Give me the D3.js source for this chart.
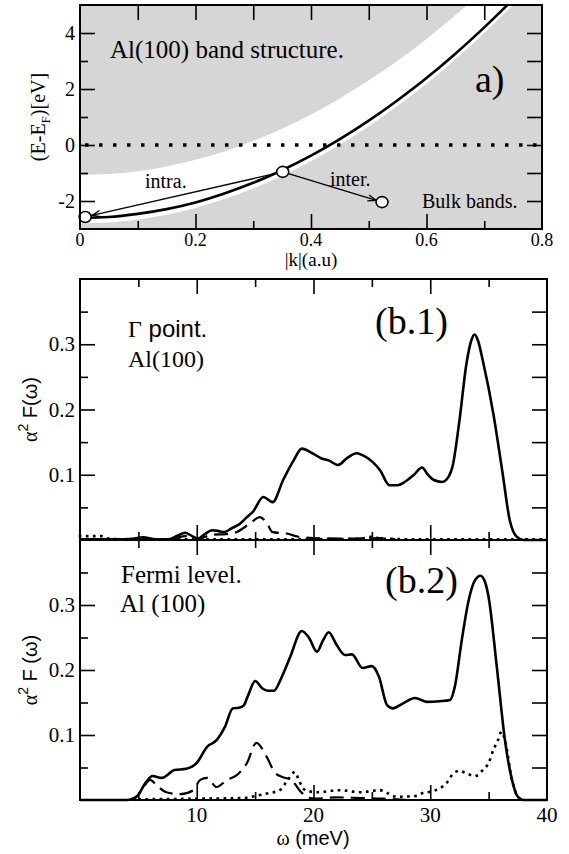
<!DOCTYPE html>
<html><head><meta charset="utf-8">
<script src="https://cdn.jsdelivr.net/npm/d3@7"></script>
<style>body{margin:0;background:#fff}svg{display:block}
.serif{font-family:"Liberation Serif","Times New Roman","DejaVu Serif",serif}
.sans{font-family:"Liberation Sans",Arial,"DejaVu Sans",sans-serif}
</style>
</head><body>
<script>
// ---------- DATA ----------
// panel a: surface band (black curve)
const bandK = [0,0.05,0.1,0.15,0.2,0.25,0.3,0.35,0.4,0.45,0.5,0.55,0.6,0.65,0.7,0.75];
const bandE = [-2.6,-2.57,-2.46,-2.29,-2.05,-1.73,-1.35,-0.9,-0.38,0.21,0.87,1.6,2.39,3.26,4.2,5.2];
// lower edge of the white gap (just below the band)
const gapLowE = [-2.8,-2.77,-2.66,-2.49,-2.25,-1.93,-1.55,-1.1,-0.58,0.01,0.67,1.4,2.19,3.06,4.0,5.0];
// upper edge of the white gap
const gapUpE = [-1.07,-1.04,-0.94,-0.77,-0.53,-0.23,0.15,0.58,1.09,1.66,2.31,3.01,3.79,4.63,5.55,6.5];
// transition points (left, middle, right)
const pointK = [0.009,0.351,0.523];
const pointE = [-2.57,-0.96,-2.04];
const aXTicks = [0,0.2,0.4,0.6,0.8];
const aYTicks = [-2,0,2,4];

// panel b.1 (Gamma point)
const b1SolidW = [0,3,4.5,5.4,6.5,7.5,8.3,9.0,9.6,10.1,10.7,11.3,11.8,12.3,13.0,13.7,14.3,14.8,15.7,16.5,17.4,18.3,19.0,19.9,20.7,21.3,22.1,22.9,23.7,24.4,25.1,25.7,26.5,27.2,27.9,28.6,29.3,29.8,30.3,31.0,31.6,31.9,32.5,33.1,33.5,33.8,34.1,34.5,35.4,36.2,36.8,37.4,38,40];
const b1SolidV = [0.001,0.001,0.002,0.004,0.001,0.001,0.006,0.011,0.006,0.002,0.009,0.015,0.014,0.012,0.018,0.025,0.035,0.043,0.066,0.058,0.092,0.122,0.140,0.133,0.125,0.122,0.115,0.126,0.133,0.128,0.119,0.107,0.084,0.084,0.090,0.100,0.111,0.100,0.092,0.089,0.098,0.112,0.183,0.270,0.305,0.315,0.305,0.275,0.194,0.102,0.031,0.005,0,0];
const b1DashW = [8,9,10,11.4,12.5,13.4,14.6,15.4,16.0,16.5,17.7,18.7,20,23,26,27];
const b1DashV = [0.001,0.006,0.002,0.008,0.009,0.012,0.026,0.035,0.026,0.012,0.010,0.005,0.003,0.002,0.003,0.001];
const b1DotW = [0,0.5,1.8,2.5,4,10,20,24,25,25.8,30,38,40];
const b1DotV = [0.006,0.006,0.006,0.002,0.001,0.001,0.001,0.002,0.005,0.002,0.001,0.001,0.001];

// panel b.2 (Fermi level)
const b2SolidW = [0,4.0,4.5,4.9,5.6,6.2,7.0,8.1,9.1,10.0,10.9,11.7,12.4,13.1,13.6,14.0,14.4,15.0,15.6,16.1,16.6,17.3,18.0,19.0,19.6,20.3,20.8,21.3,22.0,22.7,23.3,24.2,25.0,25.6,26.3,26.8,27.6,28.7,29.7,30.8,31.7,32.1,32.7,33.3,33.8,34.3,34.7,35.0,35.7,36.4,37.0,37.5,38,40];
const b2SolidV = [0,0,0.002,0.006,0.026,0.037,0.034,0.046,0.048,0.057,0.082,0.092,0.112,0.141,0.142,0.145,0.161,0.183,0.172,0.168,0.168,0.190,0.220,0.260,0.250,0.228,0.245,0.258,0.238,0.223,0.224,0.203,0.206,0.190,0.146,0.141,0.148,0.157,0.151,0.152,0.154,0.174,0.246,0.308,0.337,0.345,0.335,0.312,0.205,0.092,0.031,0.005,0,0];
const b2DashW = [4.3,4.9,5.6,6.0,6.6,7.4,8.6,9.7,10.3,10.9,11.7,12.6,13.4,14.3,15.1,16.0,16.7,17.4,18.1,18.8,19.4,20,22,24,26,28];
const b2DashV = [0,0.006,0.024,0.031,0.022,0.012,0.009,0.015,0.031,0.034,0.020,0.031,0.038,0.057,0.088,0.066,0.042,0.035,0.031,0.015,0.005,0.002,0.004,0.003,0.002,0];
const b2DotW = [4.5,10,14,15,16,17.1,17.8,18.4,18.8,19.3,20.3,22.3,24,25.7,27.1,28.7,29.4,30.1,30.8,31.4,31.8,32.5,33.2,33.9,34.5,35.0,35.4,35.8,36.1,36.4,37.0,37.5,38];
const b2DotV = [0.001,0.002,0.003,0.006,0.010,0.015,0.031,0.043,0.028,0.015,0.012,0.015,0.012,0.015,0.005,0.006,0.011,0.013,0.018,0.026,0.037,0.045,0.040,0.037,0.046,0.057,0.077,0.092,0.105,0.092,0.031,0.005,0];
const bXTicks = [10,20,30,40];
const bYTicks = [0.1,0.2,0.3];

// ---------- DRAW ----------
const svg = d3.select("body").append("svg").attr("width",569).attr("height",854);
const zip = (a,b)=>a.map((v,i)=>[v,b[i]]);

function frameTicks(g, x, y, opts){
  const {xMaj,xMin,yMaj,yMin,L,R,T,B} = opts;
  const maj=15, mn=8;
  g.append("g").attr("transform",`translate(0,${B})`)
    .call(d3.axisBottom(x).tickValues(xMin).tickSize(-mn).tickFormat(""));
  g.append("g").attr("transform",`translate(0,${B})`)
    .call(d3.axisBottom(x).tickValues(xMaj).tickSize(-maj).tickFormat(""));
  g.append("g").attr("transform",`translate(0,${T})`)
    .call(d3.axisTop(x).tickValues(xMin).tickSize(-(opts.topMin||mn)).tickFormat(""));
  g.append("g").attr("transform",`translate(0,${T})`)
    .call(d3.axisTop(x).tickValues(xMaj).tickSize(-maj).tickFormat(""));
  g.append("g").attr("transform",`translate(${L},0)`)
    .call(d3.axisLeft(y).tickValues(yMin).tickSize(-mn).tickFormat(""));
  g.append("g").attr("transform",`translate(${L},0)`)
    .call(d3.axisLeft(y).tickValues(yMaj).tickSize(-maj).tickFormat(""));
  g.append("g").attr("transform",`translate(${R},0)`)
    .call(d3.axisRight(y).tickValues(yMin.concat(yMaj)).tickSize(-maj).tickFormat(""));
  g.selectAll(".domain").remove();
  g.selectAll(".tick line").attr("stroke","#000").attr("stroke-width",1.6);
  g.append("rect").attr("x",L).attr("y",T).attr("width",R-L).attr("height",B-T)
    .attr("fill","none").attr("stroke","#000").attr("stroke-width",2);
}
function txt(g,cls,x,y,size,s,anchor){
  return g.append("text").attr("class",cls).attr("x",x).attr("y",y).attr("font-size",size)
    .attr("text-anchor",anchor||"start").text(s);
}

// ===== Panel a =====
{
  const L=80,R=542,T=5,B=229;
  const x = d3.scaleLinear().domain([0,0.8]).range([L,R]);
  const y = d3.scaleLinear().domain([-3,5]).range([B,T]);
  const g = svg.append("g");
  g.append("clipPath").attr("id","clipA").append("rect")
    .attr("x",L).attr("y",T).attr("width",R-L).attr("height",B-T);
  g.append("rect").attr("x",L).attr("y",T).attr("width",R-L).attr("height",B-T).attr("fill","#d6d6d6");
  const area = d3.area().x((d,i)=>x(bandK[i])).y0((d,i)=>y(gapLowE[i])).y1((d,i)=>y(gapUpE[i])).curve(d3.curveMonotoneX);
  g.append("path").attr("clip-path","url(#clipA)").attr("d",area(bandK)).attr("fill","#fff");
  g.append("line").attr("x1",x(0)+5).attr("x2",R).attr("y1",y(0)).attr("y2",y(0))
    .attr("stroke","#000").attr("stroke-width",3.5).attr("stroke-dasharray","3.5,10.5");
  g.append("path").attr("clip-path","url(#clipA)")
    .attr("d",d3.line().x(d=>x(d[0])).y(d=>y(d[1])).curve(d3.curveMonotoneX)(zip(bandK,bandE)))
    .attr("fill","none").attr("stroke","#000").attr("stroke-width",2.6);
  const arrow = (x1,y1,x2,y2)=>{
    g.append("line").attr("x1",x1).attr("y1",y1).attr("x2",x2).attr("y2",y2).attr("stroke","#000").attr("stroke-width",1.3);
    const a=Math.atan2(y2-y1,x2-x1), l=9, w=0.35;
    g.append("path").attr("d",`M${x2-l*Math.cos(a-w)},${y2-l*Math.sin(a-w)}L${x2},${y2}L${x2-l*Math.cos(a+w)},${y2-l*Math.sin(a+w)}`)
      .attr("fill","none").attr("stroke","#000").attr("stroke-width",1.3);
  };
  const px = pointK.map(x), py = pointE.map(y);
  {
    const a=Math.atan2(py[0]-py[1],px[0]-px[1]);
    arrow(px[1]+6*Math.cos(a),py[1]+6*Math.sin(a),px[0]-7*Math.cos(a),py[0]-7*Math.sin(a));
  }
  {
    const a=Math.atan2(py[2]-py[1],px[2]-px[1]);
    arrow(px[1]+6*Math.cos(a),py[1]+6*Math.sin(a),px[2]-6*Math.cos(a),py[2]-6*Math.sin(a));
  }
  g.selectAll("ellipse.pt").data(pointK).join("ellipse").attr("class","pt")
    .attr("cx",(d,i)=>px[i]).attr("cy",(d,i)=>py[i]).attr("rx",6).attr("ry",5.5)
    .attr("fill","#fff").attr("stroke","#000").attr("stroke-width",1.6);
  frameTicks(g,x,y,{L,R,T,B,
    xMaj:[0.2,0.4,0.6],xMin:[0.1,0.3,0.5,0.7],
    yMaj:[-2,0,2,4],yMin:[-1,1,3], topMin:15});
  g.selectAll("text.xt").data(aXTicks).join("text").attr("class","xt serif")
    .attr("x",d=>x(d)).attr("y",246).attr("text-anchor","middle")
    .attr("font-size",18).text(d=>d===0?"0":d3.format(".1f")(d));
  g.selectAll("text.yt").data(aYTicks).join("text").attr("class","yt serif")
    .attr("x",75).attr("y",d=>y(d)+7).attr("text-anchor","end")
    .attr("font-size",20).text(d=>d);
  txt(g,"serif",311,266,19,"|k|(a.u)","middle");
  const yl = g.append("text").attr("class","serif").attr("transform","translate(45,117) rotate(-90)").attr("text-anchor","middle")
    .attr("font-size",20);
  yl.append("tspan").text("(E-E");
  yl.append("tspan").attr("font-size",13).attr("dy",5).text("F");
  yl.append("tspan").attr("dy",-5).text(")[eV]");
  txt(g,"serif",110,58,25,"Al(100) band structure.");
  txt(g,"serif",475,92,38,"a)");
  txt(g,"serif",145,188,20,"intra.");
  txt(g,"serif",330,186,20,"inter.");
  txt(g,"serif",422,208,20,"Bulk bands.");
}

// ===== Panels b =====
function bPanel(T,B,series,opts){
  const L=80,R=547;
  const x = d3.scaleLinear().domain([0,40]).range([L,R]);
  const y = d3.scaleLinear().domain([0,0.4]).range([B,T]);
  const g = svg.append("g");
  const line = d3.line().x(d=>x(d[0])).y(d=>y(d[1])).curve(d3.curveMonotoneX);
  series.forEach(s=>{
    g.append("path").attr("d",line(zip(s.w,s.v))).attr("fill","none").attr("stroke","#000")
      .attr("stroke-width",s.sw).attr("stroke-dasharray",s.dash||null).attr("stroke-linecap",s.cap||"butt");
  });
  frameTicks(g,x,y,{L,R,T,B,
    xMaj:[10,20,30],xMin:[5,15,25,35],
    yMaj:[0.1,0.2,0.3],yMin:[0.05,0.15,0.25,0.35]});
  g.selectAll("text.yt").data(bYTicks).join("text").attr("class","yt serif")
    .attr("x",75).attr("y",d=>y(d)+7).attr("text-anchor","end")
    .attr("font-size",21).text(d=>d3.format(".1f")(d));
  if(opts.xLabels){
    g.selectAll("text.xt").data(bXTicks).join("text").attr("class","xt serif")
      .attr("x",d=>x(d)).attr("y",822).attr("text-anchor","middle")
      .attr("font-size",21).text(d=>d);
    const xl = g.append("text").attr("x",313).attr("y",845).attr("text-anchor","middle").attr("font-size",20);
    xl.append("tspan").attr("class","serif").text("ω");
    xl.append("tspan").attr("class","sans").text(" (meV)");
  }
  const yl = g.append("text").attr("transform",`translate(37,${(T+B)/2}) rotate(-90)`).attr("text-anchor","middle").attr("font-size",20);
  yl.append("tspan").attr("class","serif").text("α");
  yl.append("tspan").attr("class","sans").attr("font-size",14).attr("dy",-9).text("2");
  yl.append("tspan").attr("class","sans").attr("dy",9).text(opts.ylab);
  return {g,x,y};
}
const dashS = "14,7", dotS = "0.1,7";
{
  const {g} = bPanel(279,540,[
    {w:b1DotW,v:b1DotV,sw:2.6,dash:dotS,cap:"square"},
    {w:b1DashW,v:b1DashV,sw:2.2,dash:dashS},
    {w:b1SolidW,v:b1SolidV,sw:2.6}
  ],{xLabels:false,ylab:" F(ω)"});
  const t = g.append("text").attr("x",128).attr("y",337).attr("font-size",24);
  t.append("tspan").attr("class","serif").text("Γ");
  t.append("tspan").attr("class","sans").text(" point.");
  txt(g,"serif",128,367,24,"Al(100)");
  txt(g,"serif",375,334,38,"(b.1)");
}
{
  const {g} = bPanel(540,800,[
    {w:b2DotW,v:b2DotV,sw:2.6,dash:dotS,cap:"square"},
    {w:b2DashW,v:b2DashV,sw:2.2,dash:dashS},
    {w:b2SolidW,v:b2SolidV,sw:2.6}
  ],{xLabels:true,ylab:" F (ω)"});
  txt(g,"serif",121,583,25,"Fermi level.");
  txt(g,"serif",120,612,25,"Al (100)");
  txt(g,"serif",385,593,38,"(b.2)");
}
</script>
</body></html>
